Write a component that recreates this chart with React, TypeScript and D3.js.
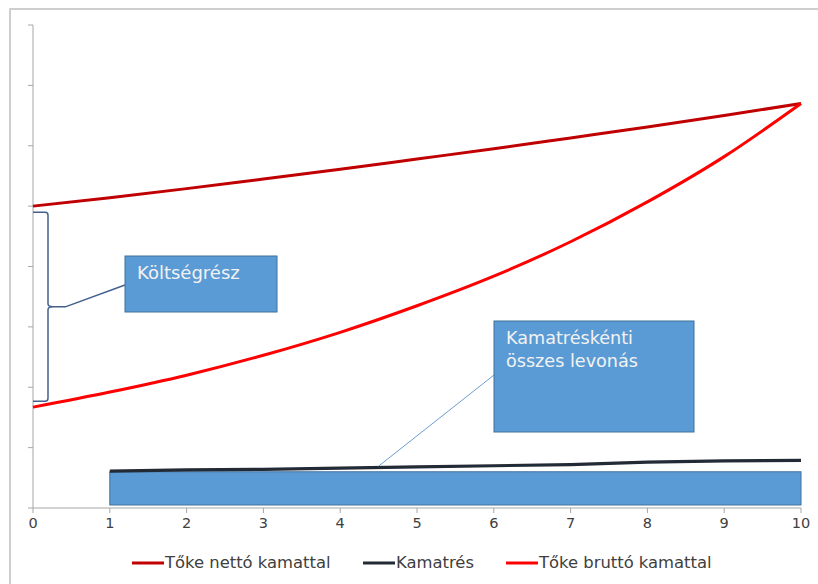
import React from "react";
import * as d3 from "d3";

// Years on the horizontal axis
const years = [0, 1, 2, 3, 4, 5, 6, 7, 8, 9, 10];
// Capital with net interest
const nettoValues = [5.0, 5.14, 5.29, 5.45, 5.61, 5.78, 5.95, 6.13, 6.31, 6.5, 6.7];
// Capital with gross interest
const bruttoValues = [1.67, 1.92, 2.2, 2.53, 2.91, 3.35, 3.84, 4.41, 5.07, 5.82, 6.7];
// Interest share, years 1..10
const kamatresYears = [1, 2, 3, 4, 5, 6, 7, 8, 9, 10];
const kamatresValues = [0.61, 0.63, 0.64, 0.66, 0.68, 0.7, 0.72, 0.76, 0.78, 0.79];
// Band under the interest-share line: [fromYear, toYear], [low, high]
const bandYears = [1, 10];
const bandLevels = [0.05, 0.6];
// Unlabelled value ticks
const yTicks = [0, 1, 2, 3, 4, 5, 6, 7, 8];

const legendLabels = ["Tőke nettó kamattal", "Kamatrés", "Tőke bruttó kamattal"];
const legendColors = ["#c00000", "#222a35", "#ff0000"];

const FONT = "'DejaVu Sans', Verdana, sans-serif";

export default function App() {
  const W = 818;
  const H = 584;
  const x = d3.scaleLinear().domain([0, 10]).range([33, 801]);
  const y = d3.scaleLinear().domain([0, 8]).range([508, 25]);

  const smooth = d3
    .line<[number, number]>()
    .x((d) => x(d[0]))
    .y((d) => y(d[1]))
    .curve(d3.curveMonotoneX);
  const straight = d3
    .line<[number, number]>()
    .x((d) => x(d[0]))
    .y((d) => y(d[1]));

  const netto = years.map((t, i) => [t, nettoValues[i]] as [number, number]);
  const brutto = years.map((t, i) => [t, bruttoValues[i]] as [number, number]);
  const kamatres = kamatresYears.map((t, i) => [t, kamatresValues[i]] as [number, number]);

  // Brace spanning the gap between the two curves at year 0
  const bTop = y(nettoValues[0]) + 6;
  const bBot = y(bruttoValues[0]) - 6;
  const bMid = (bTop + bBot) / 2;
  const bx0 = x(0);
  const bx1 = bx0 + 15;
  const r = 3;
  const bracePath = [
    `M${bx0},${bTop}`,
    `H${bx1 - r}`,
    `Q${bx1},${bTop} ${bx1},${bTop + r}`,
    `V${bMid - r}`,
    `Q${bx1},${bMid} ${bx1 + r + 2},${bMid}`,
    `H${bx1 + 18}`,
    `M${bx1 + r + 2},${bMid}`,
    `Q${bx1},${bMid} ${bx1},${bMid + r}`,
    `V${bBot - r}`,
    `Q${bx1},${bBot} ${bx1 - r},${bBot}`,
    `H${bx0}`,
  ].join(" ");

  const box1 = { x: 125, y: 256, w: 152, h: 56 };
  const box2 = { x: 494, y: 321, w: 200, h: 111 };

  const legendStarts = [132, 363, 506];

  return (
    <div style={{ position: "absolute", left: 0, top: 0 }}>
      <svg width={W} height={H} style={{ display: "block", background: "#ffffff" }}>
        {/* outer frame */}
        <rect x={10} y={9} width={900} height={700} fill="none" stroke="#c0c0c0" strokeWidth={1.5} />

        {/* value axis */}
        <line x1={x(0)} x2={x(0)} y1={y(8)} y2={y(0)} stroke="#a6a6a6" strokeWidth={1} />
        {yTicks.map((v) => (
          <line key={v} x1={x(0) - 5} x2={x(0)} y1={y(v)} y2={y(v)} stroke="#a6a6a6" strokeWidth={1} />
        ))}

        {/* band under the interest-share line */}
        <rect
          x={x(bandYears[0])}
          y={y(bandLevels[1])}
          width={x(bandYears[1]) - x(bandYears[0])}
          height={y(bandLevels[0]) - y(bandLevels[1])}
          fill="#5b9bd5"
          stroke="#41719c"
          strokeWidth={1}
        />

        {/* year axis */}
        <line x1={x(0)} x2={x(10)} y1={y(0)} y2={y(0)} stroke="#a6a6a6" strokeWidth={1} />
        {years.map((t) => (
          <g key={t}>
            <line x1={x(t)} x2={x(t)} y1={y(0)} y2={y(0) + 5} stroke="#a6a6a6" strokeWidth={1} />
            <text
              x={x(t)}
              y={y(0) + 20}
              textAnchor="middle"
              fontFamily={FONT}
              fontSize={14.5}
              fill="#404040"
            >
              {t}
            </text>
          </g>
        ))}

        {/* series */}
        <path d={smooth(netto) || ""} fill="none" stroke={legendColors[0]} strokeWidth={3} />
        <path d={smooth(brutto) || ""} fill="none" stroke={legendColors[2]} strokeWidth={3} />
        <path d={straight(kamatres) || ""} fill="none" stroke={legendColors[1]} strokeWidth={3.2} />

        {/* cost-share brace and callout */}
        <path d={bracePath} fill="none" stroke="#44608c" strokeWidth={1.5} />
        <line x1={bx1 + 18} y1={bMid} x2={box1.x} y2={box1.y + 29} stroke="#44608c" strokeWidth={1.5} />
        <rect x={box1.x} y={box1.y} width={box1.w} height={box1.h} fill="#5b9bd5" stroke="#41719c" strokeWidth={1} />
        <text x={box1.x + 12} y={box1.y + 23} fontFamily={FONT} fontSize={18} fill="#f2f2f2">
          Költségrész
        </text>

        {/* interest-share callout */}
        <line x1={box2.x} y1={box2.y + 54} x2={x(4.5)} y2={y(kamatresValues[3]) - 2} stroke="#6d9dd0" strokeWidth={1} />
        <rect x={box2.x} y={box2.y} width={box2.w} height={box2.h} fill="#5b9bd5" stroke="#41719c" strokeWidth={1} />
        <text fontFamily={FONT} fontSize={17.6} fill="#f2f2f2">
          <tspan x={box2.x + 12} y={box2.y + 23}>Kamatréskénti</tspan>
          <tspan x={box2.x + 12} y={box2.y + 45.5}>összes levonás</tspan>
        </text>

        {/* legend */}
        {legendLabels.map((label, i) => (
          <g key={label}>
            <line
              x1={legendStarts[i]}
              x2={legendStarts[i] + 32}
              y1={563}
              y2={563}
              stroke={legendColors[i]}
              strokeWidth={3}
            />
            <text x={legendStarts[i] + 33} y={568} fontFamily={FONT} fontSize={16.4} fill="#404040">
              {label}
            </text>
          </g>
        ))}
      </svg>
    </div>
  );
}
